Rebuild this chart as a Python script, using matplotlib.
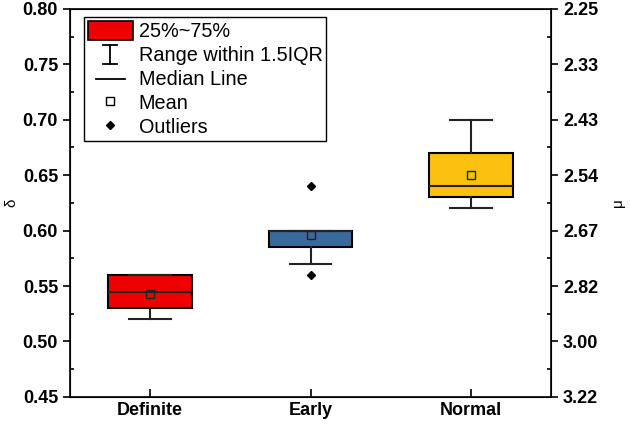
import matplotlib.pyplot as plt
from matplotlib.lines import Line2D
from matplotlib.patches import Patch
from matplotlib.legend_handler import HandlerBase
from matplotlib.ticker import AutoMinorLocator

plt.rcParams['font.family'] = ['Liberation Sans', 'DejaVu Sans']

# data
categories = ['Definite', 'Early', 'Normal']
q1 = [0.530, 0.585, 0.630]
q3 = [0.560, 0.600, 0.670]
medians = [0.545, 0.600, 0.640]
means = [0.543, 0.596, 0.650]
whis_lo = [0.520, 0.570, 0.620]
whis_hi = [0.560, 0.600, 0.700]
fliers = [[], [0.560, 0.640], []]
colors = ['#ee0000', '#3a6a9c', '#fcc010']

left_ticks = [0.45, 0.50, 0.55, 0.60, 0.65, 0.70, 0.75, 0.80]
right_labels = ['3.22', '3.00', '2.82', '2.67', '2.54', '2.43', '2.33', '2.25']

stats = []
for i, name in enumerate(categories):
    stats.append({
        'label': name, 'q1': q1[i], 'q3': q3[i], 'med': medians[i],
        'mean': means[i], 'whislo': whis_lo[i], 'whishi': whis_hi[i],
        'fliers': fliers[i],
    })


class SymbolHandler(HandlerBase):
    # draws the whisker "I" or a short median line in the legend
    def create_artists(self, legend, orig_handle, xdescent, ydescent,
                       width, height, fontsize, trans):
        cx = width / 2 - xdescent
        if orig_handle == 'whisker':
            y0 = -ydescent
            y1 = height - ydescent
            cw = width * 0.16
            lines = [
                Line2D([cx, cx], [y0, y1]),
                Line2D([cx - cw, cx + cw], [y0, y0]),
                Line2D([cx - cw, cx + cw], [y1, y1]),
            ]
        else:
            cy = height / 2 - ydescent
            hw = width * 0.32
            lines = [Line2D([cx - hw, cx + hw], [cy, cy])]
        for ln in lines:
            ln.set_color('black')
            ln.set_linewidth(1.3)
            ln.set_transform(trans)
        return lines


fig = plt.figure(figsize=(6.3, 4.24), dpi=100)
ax = fig.add_axes([0.111, 0.064, 0.764, 0.915])

ax.bxp(stats, positions=[1, 2, 3], widths=0.52, patch_artist=True,
       showmeans=True, capwidths=0.26,
       boxprops=dict(linewidth=1.5, edgecolor='black'),
       whiskerprops=dict(linewidth=1.5, color='#222222'),
       capprops=dict(linewidth=1.5, color='#222222'),
       medianprops=dict(linewidth=1.5, color='#222222'),
       meanprops=dict(marker='s', markerfacecolor='none', markeredgecolor='#222222',
                      markersize=5.5, markeredgewidth=1.0),
       flierprops=dict(marker='D', markerfacecolor='black', markeredgecolor='black',
                       markersize=4.5))
for patch, c in zip(ax.patches, colors):
    patch.set_facecolor(c)

ax.set_xlim(0.5, 3.5)
ax.set_ylim(0.45, 0.80)
ax.set_xticks([1, 2, 3])
ax.set_xticklabels(categories, fontsize=13, fontweight='bold')
ax.set_yticks(left_ticks)
ax.set_yticklabels([f'{v:.2f}' for v in left_ticks], fontsize=13, fontweight='bold')
ax.yaxis.set_minor_locator(AutoMinorLocator(2))
ax.tick_params(axis='x', direction='in', length=5.5, width=1.2, top=False)
ax.tick_params(axis='y', which='major', direction='out', length=5, width=1.2, right=False)
ax.tick_params(axis='y', which='minor', direction='in', length=3, width=1.2, right=False)
ax.set_ylabel('δ', fontsize=11, labelpad=3)
for s in ax.spines.values():
    s.set_linewidth(1.2)

ax2 = ax.twinx()
ax2.set_ylim(0.45, 0.80)
ax2.set_yticks(left_ticks)
ax2.set_yticklabels(right_labels, fontsize=13, fontweight='bold')
ax2.yaxis.set_minor_locator(AutoMinorLocator(2))
ax2.tick_params(axis='y', which='major', direction='out', length=5, width=1.2)
ax2.tick_params(axis='y', which='minor', direction='in', length=3, width=1.2)
ax2.set_ylabel('μ', fontsize=11, labelpad=9)

handles = [
    Patch(facecolor=colors[0], edgecolor='black', linewidth=1.2),
    'whisker',
    'median',
    Line2D([], [], linestyle='none', marker='s', markerfacecolor='none',
           markeredgecolor='black', markersize=5.5),
    Line2D([], [], linestyle='none', marker='D', color='black', markersize=4.5),
]
labels = ['25%~75%', 'Range within 1.5IQR', 'Median Line', 'Mean', 'Outliers']
leg = ax.legend(handles, labels, loc='upper left', bbox_to_anchor=(0.029, 0.979),
                fontsize=14.3, frameon=True, fancybox=False, edgecolor='black',
                framealpha=1, handlelength=2.25, handleheight=1.07,
                handletextpad=0.3, borderpad=0.2, labelspacing=0.2,
                borderaxespad=0, handler_map={str: SymbolHandler()})
leg.get_frame().set_linewidth(1.0)

fig.savefig('out.png', dpi=100)
